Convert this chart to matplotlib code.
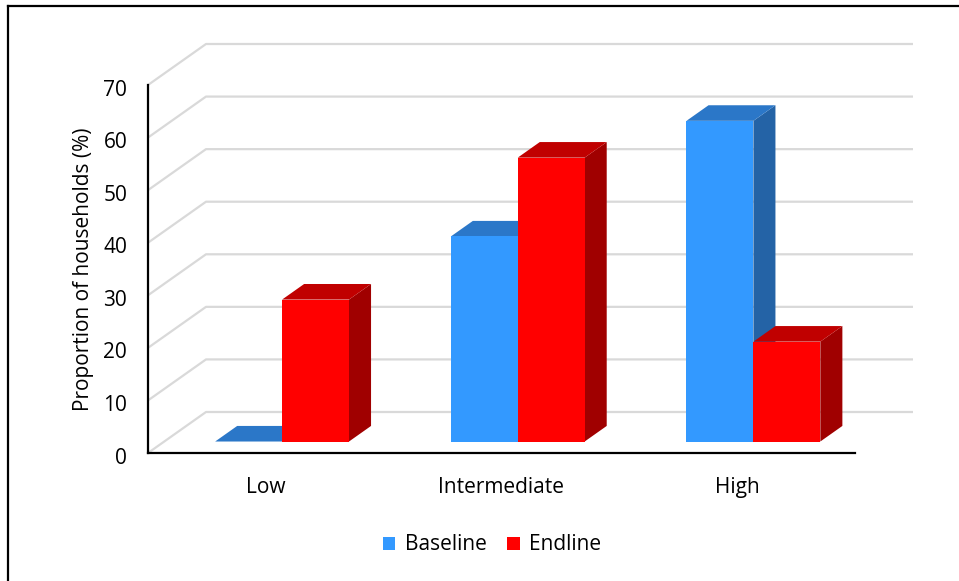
import numpy as np
import matplotlib.pyplot as plt
from matplotlib.patches import Polygon
from matplotlib.lines import Line2D
from matplotlib.transforms import ScaledTranslation

# Household proportions (%) by category
categories = ["Low", "Intermediate", "High"]
baseline = [0, 39, 61]
endline = [27, 54, 19]
yticks = [0, 10, 20, 30, 40, 50, 60, 70]

plt.rcParams['font.family'] = ['Open Sans', 'DejaVu Sans']

W, H = 959, 581
fig = plt.figure(figsize=(W / 100, H / 100), dpi=100)

# front plane of the chart box, in pixels
x_left, x_right, y_bottom, y_top = 148, 855, 453, 85
ax = fig.add_axes([x_left / W, 1 - y_bottom / H,
                   (x_right - x_left) / W, (y_bottom - y_top) / H])
ax.set_xlim(0, 3)
ax.set_ylim(0, 70)

# oblique depth of the walls (data units)
px_x = (x_right - x_left) / 3
px_y = (y_bottom - y_top) / 70
DX = 58 / px_x
DY = 41 / px_y

# back wall + left wall gridlines
for v in yticks:
    ax.plot([0, DX, 3 + DX], [v, v + DY, v + DY], color="#d9d9d9",
            lw=1.6, clip_on=False, zorder=1, solid_capstyle="butt")

# bars sit between these depth fractions
f0, f1 = 0.28, 0.66
width = 0.284
ddx = (f1 - f0) * DX
ddy = (f1 - f0) * DY

styles = [
    ("Baseline", baseline, -width / 2, "#3399ff", "#2b77c8", "#2463a6"),
    ("Endline", endline, width / 2, "#ff0000", "#c00000", "#a00000"),
]

handles = []
centers = np.arange(len(categories)) + 0.5
for i, c in enumerate(centers):
    for name, vals, off, front, top, side in styles:
        v = vals[i]
        xc = c + off + f0 * DX
        y0 = f0 * DY
        x0, x1 = xc - width / 2, xc + width / 2
        y1 = y0 + v
        ax.add_patch(Polygon([(x1, y0), (x1 + ddx, y0 + ddy), (x1 + ddx, y1 + ddy), (x1, y1)],
                             closed=True, facecolor=side, edgecolor="none",
                             clip_on=False, zorder=3))
        ax.add_patch(Polygon([(x0, y1), (x1, y1), (x1 + ddx, y1 + ddy), (x0 + ddx, y1 + ddy)],
                             closed=True, facecolor=top, edgecolor="none",
                             clip_on=False, zorder=3))
        b = ax.bar(xc, v, width=width, bottom=y0, color=front, edgecolor="none",
                   clip_on=False, zorder=3, label=name if i == 0 else None)
        if i == 0:
            handles.append(b)

# front axis lines
for s in ["top", "right"]:
    ax.spines[s].set_visible(False)
for s in ["left", "bottom"]:
    ax.spines[s].set_color("black")
    ax.spines[s].set_linewidth(1.6)
    ax.spines[s].set_zorder(5)
ax.set_facecolor("none")

fs = 15
ax.set_yticks(yticks)
ax.set_yticklabels([str(t) for t in yticks], fontsize=fs)
ax.set_xticks(centers)
ax.set_xticklabels(categories, fontsize=fs)
ax.tick_params(axis="y", length=0, pad=15)
ax.tick_params(axis="x", length=0, pad=17)
ax.set_ylabel("Proportion of households (%)", fontsize=fs, labelpad=7)

# nudge value labels down a couple of pixels
shift = ScaledTranslation(0, -2.5 / 100, fig.dpi_scale_trans)
for lab in ax.get_yticklabels():
    lab.set_transform(lab.get_transform() + shift)

fig.legend(handles=handles, labels=["Baseline", "Endline"], ncol=2,
           loc="center", bbox_to_anchor=(492 / W, 1 - 545 / H), frameon=False,
           fontsize=fs, handlelength=0.6, handleheight=0.6, handletextpad=0.45,
           columnspacing=1.0)

# outer frame (top and left edges)
fig.add_artist(Line2D([8 / W, 1], [1 - 6 / H, 1 - 6 / H], color="black", lw=1.6))
fig.add_artist(Line2D([8 / W, 8 / W], [0, 1 - 6 / H], color="black", lw=1.6))

fig.savefig("out.png", dpi=100)
